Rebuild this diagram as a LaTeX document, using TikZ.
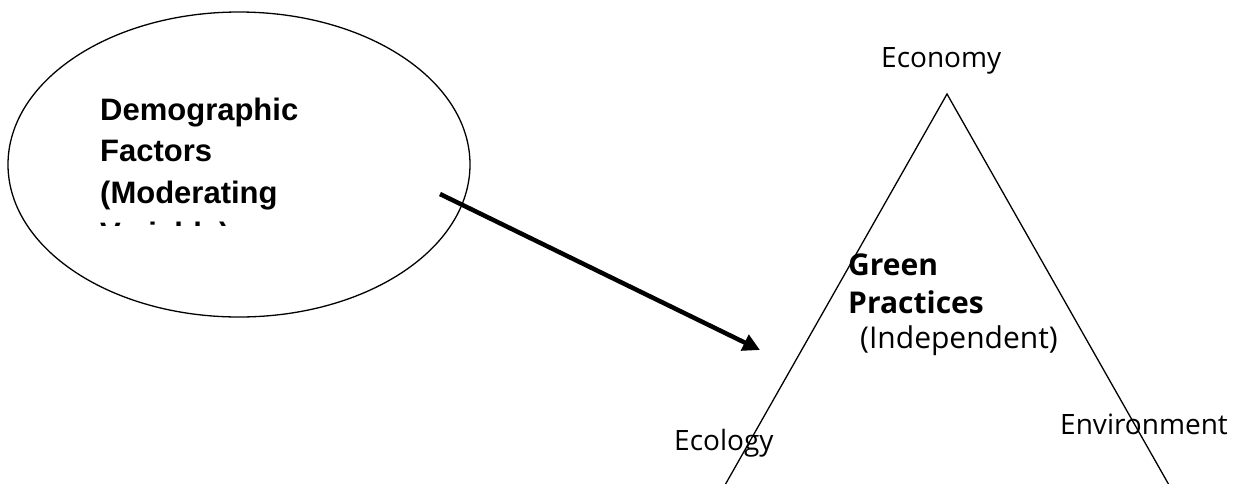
\documentclass[tikz,border=0pt]{standalone}
\usepackage{fontspec}
\setmainfont{Open Sans}
\newfontfamily\arialfont{Liberation Sans}
\usetikzlibrary{shapes.geometric,arrows.meta}
\begin{document}
\begin{tikzpicture}[x=1pt,y=-1pt]
	\tikzstyle{oval}=[draw,shape=ellipse,line width=1.3pt,minimum width=462pt,minimum height=305pt,inner sep=0pt]
	\tikzstyle{corner}=[font=\fontsize{28}{36}\selectfont,inner sep=0pt,anchor=base west]
	\tikzstyle{inner}=[corner,font=\fontsize{30}{36}\selectfont]
	\tikzstyle{boldlabel}=[corner,font=\bfseries\fontsize{30}{36}\selectfont]
	\tikzstyle{modline}=[font=\arialfont\bfseries\fontsize{31}{41.5}\selectfont,inner sep=0pt,anchor=base west]

	\useasboundingbox (0,0) rectangle (1241,483);

	% moderating variable
	\node[oval](demo) at (239,164.5){};
	\begin{scope}
		\clip (0,0) rectangle (1241,225.5);
		\node[modline](m1) at (100,120){Demographic};
		\node[modline](m2) at (100,161.5){Factors};
		\node[modline](m3) at (100,203){(Moderating};
		\node[modline](m4) at (100,244.5){Variable)};
	\end{scope}

	% triangle
	\coordinate (apex) at (947,94);
	\coordinate (left) at (725,485);
	\coordinate (right) at (1169,485);
	\draw[line width=1.3pt] (apex) -- (right) -- (left) -- cycle;

	\node[corner](econ) at (881,67){Economy};
	\node[corner](ecol) at (674,450){Ecology};
	\node[corner](env) at (1060,434){Environment};

	\node[boldlabel](green) at (848,275){Green};
	\node[boldlabel](prac) at (848,313){Practices};
	\node[inner](indep) at (860,348){(Independent)};

	% arrow
	\coordinate (from) at (440,194);
	\coordinate (to) at (760,350);
	\draw[line width=4.5pt,-{Triangle[length=17pt,width=17pt]}] (from) -- (to);
\end{tikzpicture}
\end{document}
